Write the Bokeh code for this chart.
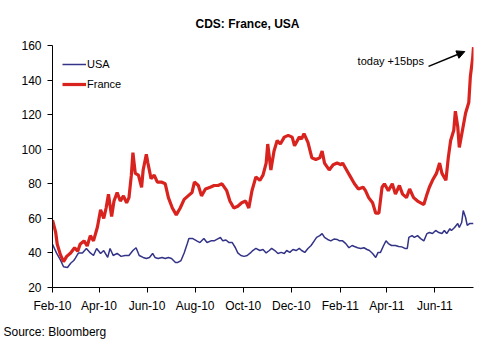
import pandas as pd
from bokeh.plotting import figure
from bokeh.models import Range1d, FixedTicker, Legend, LegendItem, Label, Arrow, NormalHead, Title
from bokeh.embed import file_html
from bokeh.resources import INLINE

# ---------------- data ----------------
start_date = "2010-02-01"
tick_dates = ["2010-02-01", "2010-04-01", "2010-06-01", "2010-08-01", "2010-10-01",
              "2010-12-01", "2011-02-01", "2011-04-01", "2011-06-01"]
tick_labels = ["Feb-10", "Apr-10", "Jun-10", "Aug-10", "Oct-10",
               "Dec-10", "Feb-11", "Apr-11", "Jun-11"]
y_ticks = [20, 40, 60, 80, 100, 120, 140, 160]

# days since start_date
france_day = [0, 4, 6, 10, 14, 18, 23, 28, 32, 35, 40, 44, 48, 52, 57, 61, 65, 68, 71, 75,
              78, 82, 86, 90, 94, 97, 100, 102, 105, 109, 113, 115, 119, 121, 125, 129, 133,
              138, 143, 147, 152, 157, 162, 167, 172, 177, 180, 185, 189, 194, 200, 205, 210,
              215, 221, 225, 230, 235, 240, 245, 249, 253, 258, 263, 267, 271, 273, 277, 281,
              285, 289, 294, 299, 304, 307, 313, 316, 319, 324, 329, 334, 339, 342, 345, 351,
              356, 361, 366, 368, 373, 378, 383, 388, 394, 397, 401, 406, 410, 414, 418, 421,
              426, 431, 435, 440, 444, 449, 453, 458, 463, 467, 471, 475, 478, 482, 487, 491,
              494, 499, 502, 505, 509, 511, 514, 516, 520, 524, 528, 530, 533, 534]
france_cds = [59, 52, 45, 39, 35, 38, 40, 43, 41, 45, 47, 44, 50, 47, 55, 65, 60, 66, 74, 61,
              70, 75, 70, 73, 69, 72, 85, 98, 86, 85, 78, 88, 97, 92, 83, 85, 81,
              81, 80, 72, 66, 62, 66, 71, 73, 75, 81, 79, 73, 77, 78, 79, 79,
              80, 76, 70, 66, 67, 69, 70, 66, 76, 84, 82, 85, 92, 103, 88, 99,
              105, 103, 107, 108, 107, 102, 107, 106, 109, 104, 95, 94, 95, 99, 92, 88,
              91, 92, 91, 92, 88, 84, 80, 77, 78, 76, 72, 69, 63, 63, 78, 80,
              76, 80, 74, 79, 74, 72, 77, 72, 70, 69, 68, 74, 78, 82, 86, 92,
              86, 82, 95, 105, 111, 122, 113, 101, 111, 121, 127, 142, 153, 159]

usa_day = [0, 5, 10, 14, 19, 23, 27, 29, 33, 38, 43, 48, 52, 56, 61, 65, 70, 73, 77, 82,
           87, 92, 97, 102, 106, 110, 115, 119, 123, 127, 130, 134, 139, 143, 147, 151, 156,
           159, 163, 167, 171, 173, 178, 183, 187, 192, 196, 201, 205, 209, 213, 216, 220,
           224, 228, 232, 235, 239, 243, 247, 251, 254, 258, 263, 267, 271, 275, 278, 282,
           286, 290, 294, 297, 301, 305, 309, 313, 316, 320, 324, 328, 332, 335, 339, 342,
           345, 349, 353, 357, 361, 364, 368, 372, 376, 380, 383, 387, 391, 395, 399, 402,
           406, 410, 413, 416, 420, 423, 426, 430, 435, 439, 443, 447, 450, 452, 456, 459,
           463, 467, 471, 475, 478, 482, 486, 490, 494, 497, 500, 504, 506, 510, 514, 516,
           519, 521, 524, 526, 529, 534]
usa_cds = [45, 40, 36, 32, 31.6, 34, 35.6, 37, 40, 40, 42.6, 40, 38.5, 42.6, 39.7, 41.4, 37.4,
           42.6, 38.5, 39.7, 38, 38.5, 38.5, 41.4, 43, 38.5, 37.4, 36.8, 37.4, 39.7, 37.4,
           36.8, 37.4, 36.8, 37.4, 36.8, 34.5, 34.5, 35.6, 40, 45.4, 48.3, 48.3, 47, 46,
           48.3, 46, 47, 47, 48, 48.9, 47, 47.5, 46, 46, 43, 40, 38.5, 38, 38.5, 40, 41.4,
           42.6, 41.4, 42, 40, 41.4, 42.6, 41.4, 39.7, 40.3, 39.7, 41.4, 40.3, 42, 41.4,
           42.6, 41.4, 40.3, 42.6, 44.3, 47, 49, 50, 51.2, 49, 47.8, 47, 48, 47.8, 47, 47,
           45.4, 43, 44.3, 43.7, 43, 42.6, 43, 42, 41.4, 39.7, 37.4, 40.3, 40.3, 44.3, 47,
           45.4, 44.3, 44.3, 43.7, 43.5, 42.6, 42.6, 49, 50, 49, 50, 48.3, 47, 51.2, 51.8,
           51.2, 53, 51.8, 51.2, 53, 51.2, 54, 53, 54.7, 57, 54.7, 57.6, 64.5, 60.5, 56,
           57, 57]

# ---------------- figure ----------------
t0 = pd.Timestamp(start_date)
tick_days = [(pd.Timestamp(d) - t0).days for d in tick_dates]

FONT = "Liberation Sans"

p = figure(width=480, height=360, output_backend="svg", toolbar_location=None,
           x_range=Range1d(0, 534), y_range=Range1d(20, 160),
           min_border_left=52, min_border_right=7, min_border_top=45, min_border_bottom=73,
           background_fill_color="white", border_fill_color="white")
p.outline_line_color = None
p.xgrid.visible = False
p.ygrid.visible = False

p.title.text = "CDS: France, USA"
p.title.align = "left"
p.title.offset = 143
p.title.standoff = 29
p.title.text_font = FONT
p.title.text_font_size = "12px"
p.title.text_font_style = "bold"
p.title.text_color = "black"

usa = p.line(usa_day, usa_cds, line_color="#333388", line_width=1.5)
fr = p.line(france_day, france_cds, line_color="#d8231e", line_width=3.2)

for ax in (p.xaxis[0], p.yaxis[0]):
    ax.axis_line_color = "black"
    ax.major_tick_line_color = "black"
    ax.major_tick_in = 0
    ax.major_tick_out = 5
    ax.minor_tick_line_color = None
    ax.major_label_text_font = FONT
    ax.major_label_text_font_size = "12px"
    ax.major_label_text_color = "black"

p.yaxis.ticker = FixedTicker(ticks=y_ticks)
p.yaxis.major_label_standoff = 6
p.xaxis.ticker = FixedTicker(ticks=tick_days)
p.xaxis.major_label_overrides = {d: lab for d, lab in zip(tick_days, tick_labels)}
p.xaxis.major_label_standoff = 6

source = Title(text="Source: Bloomberg", align="left", offset=-49, standoff=15,
               text_font=FONT, text_font_size="12px", text_font_style="normal",
               text_color="black")
p.add_layout(source, "below")

legend = Legend(items=[LegendItem(label="USA", renderers=[usa]),
                       LegendItem(label="France", renderers=[fr])],
                location=(10, 196), border_line_color=None, background_fill_alpha=0,
                padding=0, margin=0, spacing=6, glyph_width=24, glyph_height=14,
                label_height=14, label_standoff=1, label_text_font=FONT,
                label_text_font_size="11px", label_text_color="black")
p.add_layout(legend)

p.add_layout(Label(x=387, y=150.8, text="today +15bps", text_align="left",
                   text_baseline="middle", text_font=FONT, text_font_size="11px",
                   text_color="black"))
p.add_layout(Arrow(x_start=477, y_start=147.9, x_end=523, y_end=156.5, line_width=1.5,
                   line_color="black",
                   end=NormalHead(size=8, fill_color="black", line_color="black")))

open("out.html", "w").write(file_html(p, INLINE))
